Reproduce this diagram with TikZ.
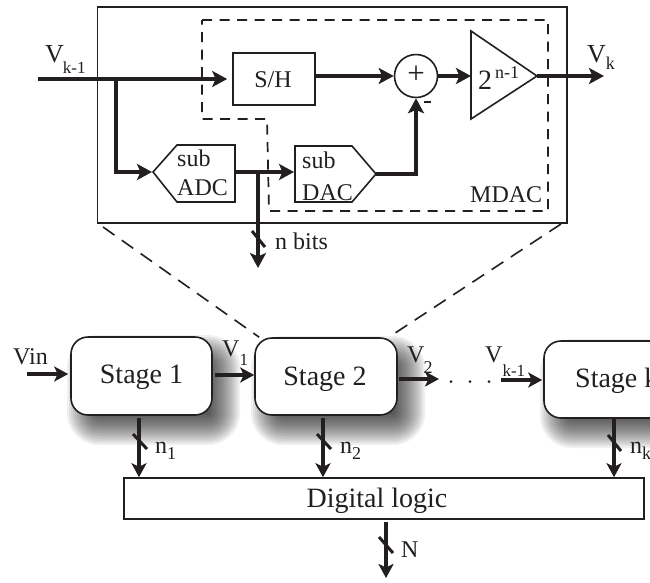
\documentclass[tikz,border=0pt]{standalone}
\usepackage{fontspec}
\setmainfont{Liberation Serif}
\usetikzlibrary{arrows.meta,calc}
\newcommand{\fs}[1]{\fontsize{#1}{#1}\selectfont}
\newcommand{\softshadow}[4]{%
  \foreach \e in {16,14,...,-16}{%
    \pgfmathsetmacro{\rr}{max(2,16+\e)}%
    \fill[black,opacity=0.06,rounded corners=\rr pt]
      ({#1+12-\e},{#2+14-\e}) rectangle ({#3+12+\e},{#4+14+\e});
  }}
\tikzset{
  thinbox/.style={draw=ink,line width=1.6pt,fill=white,inner sep=0pt},
  stagebox/.style={thinbox,rounded corners=17pt,minimum height=78pt},
  bus/.style={draw=ink,line width=3.8pt,-{Stealth[length=15pt,width=16pt,inset=3.5pt]}},
  slash/.style={draw=ink,line width=3pt},
  dashline/.style={draw=ink,line width=1.7pt,dash pattern=on 10pt off 7.5pt},
  guideline/.style={draw=ink,line width=1.6pt,dash pattern=on 14pt off 9pt},
  outline/.style={draw=ink,line width=1.6pt,line join=miter},
  lbl/.style={text=ink,inner sep=0pt,anchor=base west},
  lowbus/.style={draw=ink,line width=3.6pt,-{Stealth[length=14pt,width=15pt,inset=3.5pt]}}
}
\definecolor{ink}{HTML}{231F20}
\begin{document}
\begin{tikzpicture}[x=1pt,y=-1pt]
\clip (0,0) rectangle (650,582);
\fill[white] (0,0) rectangle (650,582);
% ---- shadows
\softshadow{71}{337}{212}{415}
\softshadow{255}{338}{397}{415}
\softshadow{544}{341}{760}{418}
% ---- upper block frames
\draw[draw=ink,line width=1.9pt] (97.5,7) rectangle (567,223);
\draw[dashline] (202,20) -- (548,20) -- (548,211) -- (269,211) -- (267,119) -- (202,119) -- cycle;
% ---- upper block parts
\node[thinbox,minimum width=82pt,minimum height=52pt] (sh) at (274,79) {};
\node[lbl,anchor=base] at (273,87) {\fs{24}S/H};
\node[draw=ink,line width=1.6pt,fill=white,circle,minimum size=43pt,inner sep=0pt] (sum) at (416,76) {};
\node[text=ink,inner sep=0pt] at (416,75) {\fs{31}+};
% amp
\coordinate (ampA) at (471,31);
\coordinate (ampB) at (471,119);
\coordinate (ampT) at (537,76);
\draw[outline,fill=white] (ampA) -- (ampT) -- (ampB) -- cycle;
\node[lbl] at (478,89) {\fs{28}2\kern3pt\raise11pt\hbox{\fs{18}n-1}};
% sub ADC
\coordinate (adcT) at (153,172);
\coordinate (adcE) at (236,172);
\draw[outline,fill=white] (adcT) -- (177,145) -- (235,145) -- (235,202) -- (177,202) -- cycle;
\node[lbl] at (177,166) {\fs{24}sub};
\node[lbl] at (177,195) {\fs{24}ADC};
% sub DAC
\coordinate (dacW) at (295,172);
\coordinate (dacT) at (376,174);
\draw[outline,fill=white] (295,146) -- (352,146) -- (dacT) -- (352,202) -- (295,202) -- cycle;
\node[lbl] at (302,168) {\fs{24}sub};
\node[lbl] at (302,200) {\fs{24}DAC};
\node[lbl] at (470,202) {\fs{24}MDAC};
% ---- upper connectors
\coordinate (vkin) at (38,79);
\coordinate (br1) at (116,79);
\coordinate (br2) at (258,172);
\coordinate (nbitsEnd) at (258,268);
\coordinate (vkout) at (604,76);
\draw[bus] (vkin) -- ($(sh.west)+(-5,0)$);
\draw[bus,line join=miter] (br1) |- ($(adcT)+(-1,0)$);
\draw[bus] (adcE) -- ($(dacW)+(-1,0)$);
\draw[bus] (br2) -- (nbitsEnd);
\draw[slash] (252,231) -- (265,247);
\draw[bus] ($(sh.east)+(0,-3)$) -- (sum.west);
\draw[bus,line join=miter] (dacT) -| (sum.south);
\draw[bus] (sum.east) -- (ampT -| ampA);
\draw[bus] (ampT) -- (vkout);
\fill[ink] (424,100.5) rectangle (431,103);
% ---- upper labels
\node[lbl] at (45,62) {\fs{26}V\kern-1pt\lower11pt\hbox{\fs{17}k-1}};
\node[lbl] at (587,62) {\fs{26}V\lower7pt\hbox{\fs{18}k}};
\node[lbl] at (275,249) {\fs{24}n bits};
% ---- stages
\node[stagebox,minimum width=141pt] (s1) at (141.5,376) {};
\node[stagebox,minimum width=142pt,minimum height=77pt] (s2) at (326,376.5) {};
\node[stagebox,minimum width=216pt,minimum height=77pt] (sk) at (652,379.5) {};
\draw[guideline] (103,227) -- ($(s2.north west)+(5,0)$);
\draw[guideline] (561,224) -- ($(s2.north east)+(-9,0)$);
\node[lbl,anchor=base] at (141.5,383) {\fs{28}Stage 1};
\node[lbl,anchor=base] at (325,385) {\fs{28}Stage 2};
\node[lbl] at (575,387) {\fs{28}Stage k};
\node[thinbox,minimum width=520pt,minimum height=41pt] (dl) at (384,498.5) {};
\node[lbl,anchor=base] at (377,507) {\fs{28}Digital logic};
% ---- lower connectors
\coordinate (vin) at (27,374);
\coordinate (s2out) at (439,379);
\coordinate (vkm) at (501,380);
\coordinate (nout) at (386,578);
\coordinate (tap1) at (139,418);
\coordinate (tap2) at (323,418);
\coordinate (tapk) at (614,419);
\coordinate (tapn) at (386,522);
\draw[lowbus] (vin) -- ($(s1.west)+(-2,-2)$);
\draw[lowbus] ($(s1.east)+(2,-1)$) -- ($(s2.west)+(0,-1.5)$);
\draw[lowbus] ($(s2.east)+(1,2.5)$) -- (s2out);
\draw[lowbus] (vkm) -- ($(sk.west)+(-1,0.5)$);
\draw[lowbus] (tap1) -- (tap1 |- dl.north);
\draw[lowbus] (tap2) -- (tap2 |- dl.north);
\draw[lowbus] (tapk) -- (tapk |- dl.north);
\draw[lowbus] (tapn) -- (nout);
\draw[slash] (133,434) -- (147,449);
\draw[slash] (317,434) -- (331,449);
\draw[slash] (608,435) -- (621,451);
\draw[slash] (379,537) -- (393,553);
% ---- dots
\foreach \dx in {451,470,489}{\fill[ink] (\dx,381.5) circle (1.5pt);}
% ---- lower labels
\node[lbl] at (13,364) {\fs{24}Vin};
\node[lbl] at (222,356) {\fs{24}V\lower9pt\hbox{\fs{17}1}};
\node[lbl] at (407,362) {\fs{24}V\kern-1pt\lower11pt\hbox{\fs{18}2}};
\node[lbl] at (485,362) {\fs{24}V\lower14pt\hbox{\fs{17}k-1}};
\node[lbl] at (155,453) {\fs{24}n\lower6pt\hbox{\fs{18}1}};
\node[lbl] at (340,453) {\fs{24}n\lower6pt\hbox{\fs{18}2}};
\node[lbl] at (630,453) {\fs{24}n\lower6pt\hbox{\fs{18}k}};
\node[lbl] at (401,557) {\fs{24}N};
\end{tikzpicture}
\end{document}
